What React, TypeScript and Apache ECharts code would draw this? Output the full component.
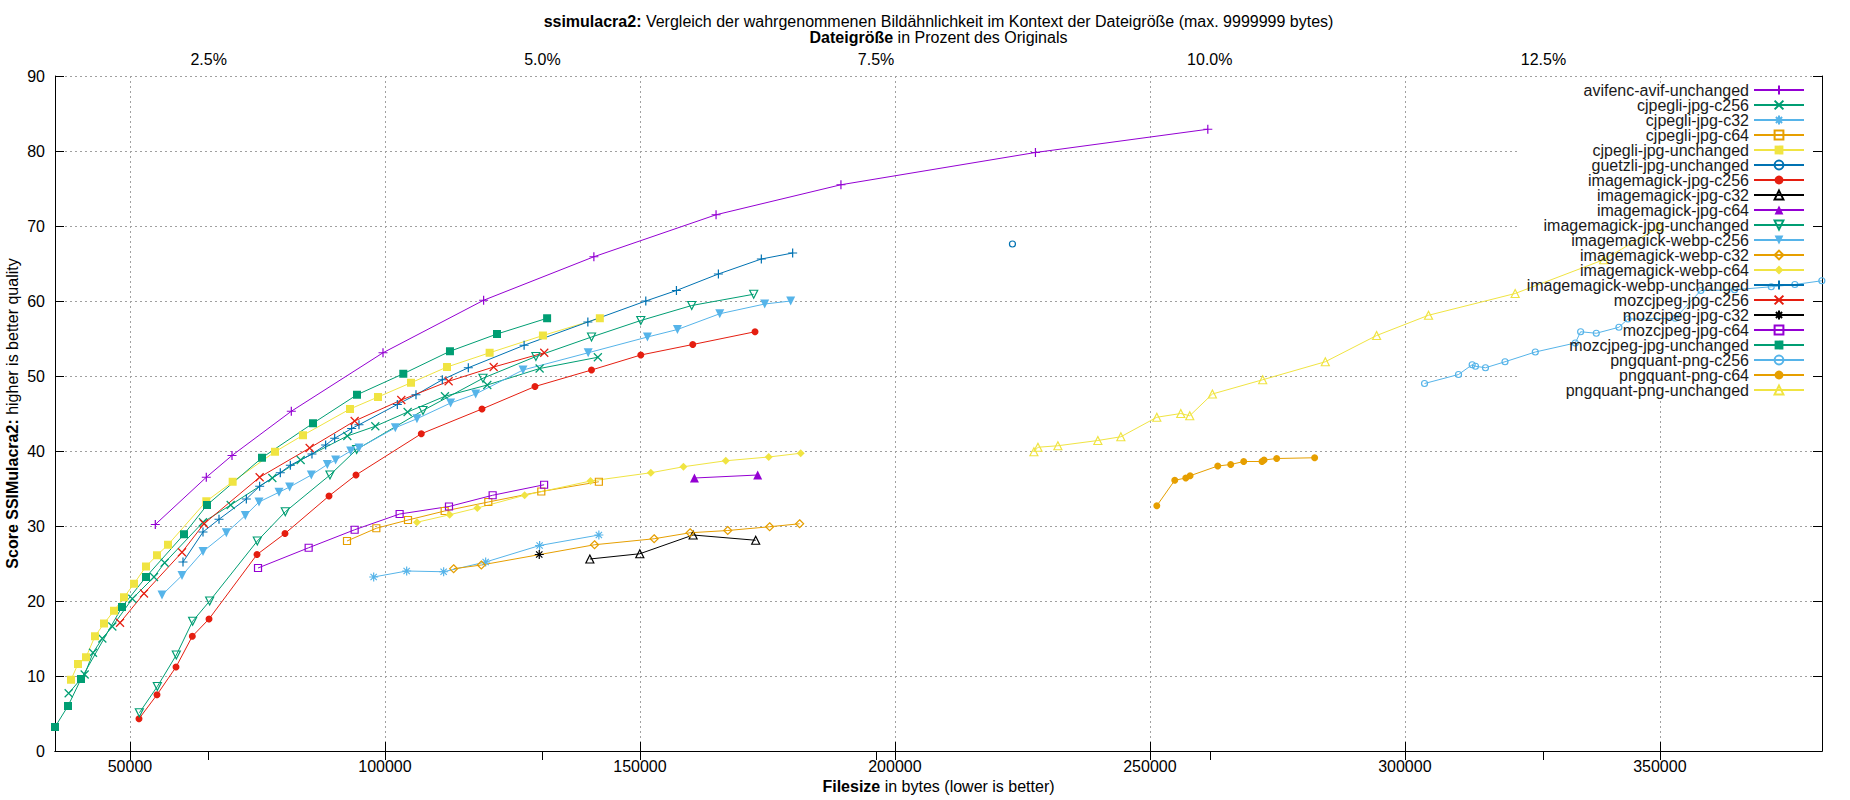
import { useEffect, useRef } from 'react';
import * as echarts from 'echarts';

const FONT = '"Liberation Sans", Arial, sans-serif';

// size of the original image in bytes (top axis = percent of it)
const ORIGINAL_SIZE = 2617500;
const X_MIN = 35300;
const X_MAX = 381800;

const bottomTicks = [50000, 100000, 150000, 200000, 250000, 300000, 350000];
const topTicks = [2.5, 5, 7.5, 10, 12.5];
const yTicksMax = 90;

const seriesNames = [
  'avifenc-avif-unchanged',
  'cjpegli-jpg-c256',
  'cjpegli-jpg-c32',
  'cjpegli-jpg-c64',
  'cjpegli-jpg-unchanged',
  'guetzli-jpg-unchanged',
  'imagemagick-jpg-c256',
  'imagemagick-jpg-c32',
  'imagemagick-jpg-c64',
  'imagemagick-jpg-unchanged',
  'imagemagick-webp-c256',
  'imagemagick-webp-c32',
  'imagemagick-webp-c64',
  'imagemagick-webp-unchanged',
  'mozcjpeg-jpg-c256',
  'mozcjpeg-jpg-c32',
  'mozcjpeg-jpg-c64',
  'mozcjpeg-jpg-unchanged',
  'pngquant-png-c256',
  'pngquant-png-c64',
  'pngquant-png-unchanged',
];

// [filesize in bytes, ssimulacra2 score]
const avifencAvifUnchanged = [[54970, 30.2], [64970, 36.5], [70010, 39.4], [81640, 45.3], [99620, 53.1], [119350, 60.1], [140970, 65.9], [164930, 71.5], [189420, 75.5], [227560, 79.8], [261360, 82.9]];
const cjpegliJpgC256 = [[37980, 7.7], [41120, 10.2], [42750, 13.1], [44580, 15.0], [46540, 16.6], [50460, 20.3], [54710, 23.2], [56800, 25.1], [64320, 30.5], [69750, 32.8], [77920, 36.4], [83470, 38.8], [92620, 42.0], [98110, 43.3], [104450, 45.2], [111770, 47.3], [120070, 48.8], [130330, 51.0], [141750, 52.5]];
const cjpegliJpgC32 = [[97790, 23.2], [104260, 24.0], [111510, 23.9], [119750, 25.2], [130330, 27.4], [141950, 28.8]];
const cjpegliJpgC64 = [[92560, 28.0], [98310, 29.7], [104520, 30.8], [111710, 32.0], [120270, 33.2], [130660, 34.6], [141950, 35.9]];
const cjpegliJpgUnchanged = [[38440, 9.5], [39810, 11.6], [41380, 12.5], [43140, 15.3], [44910, 17.0], [46870, 18.7], [48830, 20.5], [50790, 22.3], [53140, 24.6], [55300, 26.1], [57460, 27.5], [64970, 33.3], [70140, 35.9], [78440, 39.9], [83930, 42.1], [93150, 45.6], [98640, 47.2], [105110, 49.1], [112170, 51.2], [120530, 53.1], [130980, 55.4], [142140, 57.7]];
const guetzliJpgUnchanged = [[223050, 67.6]];
const imagemagickJpgC256 = [[51770, 4.3], [55300, 7.5], [59030, 11.2], [62230, 15.3], [65500, 17.6], [74910, 26.2], [80400, 29.0], [89030, 34.0], [94320, 36.8], [107130, 42.3], [119030, 45.6], [129420, 48.6], [140510, 50.8], [150170, 52.8], [160360, 54.2], [172570, 55.9]];
const imagemagickJpgC32 = [[140180, 25.6], [149980, 26.3], [160430, 28.8], [172700, 28.1]];
const imagemagickJpgC64 = [[160690, 36.4], [173090, 36.8]];
const imagemagickJpgUnchanged = [[51840, 5.1], [55370, 8.6], [59090, 12.8], [62290, 17.3], [65630, 20.0], [74970, 28.0], [80460, 31.9], [89220, 36.8], [94450, 40.2], [107460, 45.4], [119220, 49.7], [129600, 52.6], [140510, 55.2], [150170, 57.4], [160160, 59.4], [172310, 60.9]];
const imagemagickWebpC256 = [[56280, 20.8], [60200, 23.4], [64320, 26.6], [68900, 29.1], [72620, 31.4], [75300, 33.2], [79220, 34.5], [81310, 35.2], [85560, 36.8], [88700, 38.2], [90330, 38.8], [93280, 40.0], [94910, 40.4], [102030, 43.1], [106280, 44.3], [112880, 46.4], [117790, 47.6], [127070, 50.8], [139860, 53.1], [151480, 55.2], [157360, 56.2], [165650, 58.3], [174470, 59.6], [179560, 60.0]];
const imagemagickWebpC32 = [[113470, 24.3], [118900, 24.8], [141100, 27.5], [152790, 28.3], [159840, 29.1], [167220, 29.4], [175440, 29.9], [181320, 30.3]];
const imagemagickWebpC64 = [[106280, 30.5], [112690, 31.5], [118110, 32.4], [127390, 34.1], [140310, 36.0], [152130, 37.1], [158530, 37.9], [166830, 38.7], [175250, 39.2], [181520, 39.7]];
const imagemagickWebpUnchanged = [[60400, 25.2], [64320, 29.2], [67460, 30.9], [72820, 33.6], [75430, 35.3], [79480, 37.1], [81450, 38.1], [85690, 39.6], [88370, 40.8], [90140, 41.7], [93470, 43.0], [94910, 43.5], [102430, 46.2], [106090, 47.5], [111250, 49.5], [116350, 51.1], [127290, 54.1], [139790, 57.2], [151150, 60.0], [157160, 61.4], [165390, 63.6], [173810, 65.6], [179950, 66.4]];
const mozcjpegJpgC256 = [[48050, 17.1], [52750, 21.0], [60200, 26.5], [64520, 30.3], [75430, 36.5], [85240, 40.4], [94060, 44.0], [103210, 46.8], [112490, 49.3], [121320, 51.2], [131240, 53.1]];
const mozcjpegJpgC32 = [[130260, 26.2]];
const mozcjpegJpgC64 = [[75110, 24.4], [85040, 27.1], [94060, 29.5], [102880, 31.6], [112560, 32.6], [121120, 34.1], [131210, 35.5]];
const mozcjpegJpgUnchanged = [[35300, 3.2], [37850, 6.0], [40400, 9.6], [48440, 19.2], [53140, 23.2], [60600, 28.9], [65110, 32.8], [75890, 39.1], [85890, 43.7], [94520, 47.5], [103600, 50.3], [112750, 53.3], [121970, 55.6], [131800, 57.7]];
const pngquantPngC256 = [[303860, 49.0], [310520, 50.2], [313200, 51.5], [313850, 51.3], [315810, 51.1], [319640, 51.9], [325580, 53.2], [333420, 54.4], [334470, 55.9], [337540, 55.7], [341980, 56.5], [343740, 57.6], [353020, 57.7], [358040, 61.4], [364660, 61.5], [371850, 61.9], [376480, 62.2], [381770, 62.7]];
const pngquantPngC64 = [[251360, 32.7], [254880, 36.1], [257040, 36.4], [257890, 36.7], [263310, 38.0], [265850, 38.2], [268400, 38.6], [271990, 38.6], [272390, 38.8], [274870, 39.0], [282310, 39.1]];
const pngquantPngUnchanged = [[227260, 39.9], [228050, 40.5], [231960, 40.7], [239800, 41.4], [244310, 41.9], [251360, 44.5], [256060, 45.0], [257820, 44.7], [262260, 47.6], [272120, 49.5], [284400, 51.9], [294460, 55.4], [304640, 58.1], [321630, 61.0], [338970, 65.5], [349950, 69.9]];

const seriesData = [
  avifencAvifUnchanged, cjpegliJpgC256, cjpegliJpgC32, cjpegliJpgC64, cjpegliJpgUnchanged,
  guetzliJpgUnchanged, imagemagickJpgC256, imagemagickJpgC32, imagemagickJpgC64, imagemagickJpgUnchanged,
  imagemagickWebpC256, imagemagickWebpC32, imagemagickWebpC64, imagemagickWebpUnchanged,
  mozcjpegJpgC256, mozcjpegJpgC32, mozcjpegJpgC64, mozcjpegJpgUnchanged,
  pngquantPngC256, pngquantPngC64, pngquantPngUnchanged,
];

// gnuplot default colour cycle
const palette = ['#9400d3', '#009e73', '#56b4e9', '#e69f00', '#f0e442', '#0072b2', '#e51e10', '#000000'];

// gnuplot point types 1..13
const markers = [
  { symbol: 'path://M5,0L5,10M0,5L10,5', size: 9, filled: false },
  { symbol: 'path://M0,0L10,10M10,0L0,10', size: 8, filled: false },
  { symbol: 'path://M5,0L5,10M0,5L10,5M1.5,1.5L8.5,8.5M8.5,1.5L1.5,8.5', size: 9, filled: false },
  { symbol: 'path://M0,0L10,0L10,10L0,10Z', size: 7, filled: false },
  { symbol: 'rect', size: 8, filled: true },
  { symbol: 'path://M0,5A5,5,0,1,1,10,5A5,5,0,1,1,0,5Z', size: 6, filled: false },
  { symbol: 'circle', size: 7, filled: true },
  { symbol: 'path://M5,0L10,9L0,9Z', size: 8, filled: false },
  { symbol: 'triangle', size: 9, filled: true },
  { symbol: 'path://M0,0L10,0L5,9Z', size: 8, filled: false },
  { symbol: 'triangle', size: 9, filled: true, rotate: 180 },
  { symbol: 'path://M5,0L10,5L5,10L0,5Z', size: 8, filled: false },
  { symbol: 'diamond', size: 8, filled: true },
];

const toPercent = (bytes: number) => (bytes / ORIGINAL_SIZE) * 100;

export default function App() {
  const chartRef = useRef<HTMLDivElement>(null);

  useEffect(() => {
    const chart = echarts.init(chartRef.current, null, { renderer: 'svg' });

    const series = seriesNames.map((name, i) => {
      const color = palette[i % palette.length];
      const m = markers[i % markers.length];
      return {
        name,
        type: 'line',
        data: seriesData[i],
        xAxisIndex: 0,
        yAxisIndex: 0,
        symbol: m.symbol,
        symbolSize: m.size,
        symbolRotate: m.rotate || 0,
        lineStyle: { color, width: 1 },
        itemStyle: {
          color: m.filled ? color : 'transparent',
          borderColor: color,
          borderWidth: m.filled ? 0 : 1.2,
        },
        emphasis: { disabled: true },
        silent: true,
      };
    });

    const tickLine = { color: '#000', width: 1 };
    const gridLine = { color: '#a0a0a0', width: 1, type: [2, 3] };

    const option = {
      animation: false,
      textStyle: { fontFamily: FONT, color: '#000' },
      grid: { left: 55, top: 76, width: 1767, height: 675 },
      xAxis: [
        {
          type: 'value',
          position: 'bottom',
          min: X_MIN,
          max: X_MAX,
          axisLine: { show: true, lineStyle: tickLine },
          axisTick: { show: true, inside: true, length: 9, customValues: bottomTicks, lineStyle: tickLine },
          axisLabel: {
            customValues: bottomTicks,
            margin: 7,
            fontSize: 16,
            color: '#000',
            fontFamily: FONT,
            formatter: (v: number) => String(v),
          },
          splitLine: { show: true, lineStyle: gridLine },
        },
        {
          type: 'value',
          position: 'top',
          min: toPercent(X_MIN),
          max: toPercent(X_MAX),
          axisLine: { show: true, lineStyle: tickLine },
          axisTick: {
            show: true,
            inside: true,
            length: 9,
            customValues: topTicks.concat(bottomTicks.map(toPercent)),
            lineStyle: tickLine,
          },
          axisLabel: {
            customValues: topTicks,
            margin: 9,
            fontSize: 16,
            color: '#000',
            fontFamily: FONT,
            formatter: (v: number) => v.toFixed(1) + '%',
          },
          splitLine: { show: false },
        },
      ],
      yAxis: [
        {
          type: 'value',
          position: 'left',
          min: 0,
          max: yTicksMax,
          interval: 10,
          axisLine: { show: true, lineStyle: tickLine },
          axisTick: { show: true, inside: true, length: 9, lineStyle: tickLine },
          axisLabel: { margin: 10, fontSize: 16, color: '#000', fontFamily: FONT },
          splitLine: { show: true, lineStyle: gridLine },
        },
        {
          type: 'value',
          position: 'right',
          min: 0,
          max: yTicksMax,
          interval: 10,
          axisLine: { show: true, lineStyle: tickLine },
          axisTick: { show: true, inside: true, length: 9, lineStyle: tickLine },
          axisLabel: { show: false },
          splitLine: { show: false },
        },
      ],
      legend: {
        orient: 'vertical',
        right: 45,
        top: 82,
        align: 'right',
        itemWidth: 50,
        itemHeight: 11,
        itemGap: -1,
        padding: 0,
        selectedMode: false,
        data: seriesNames,
        textStyle: { fontSize: 16, color: '#1a1a1a', fontFamily: FONT },
      },
      graphic: [
        {
          type: 'rect',
          z: 1,
          silent: true,
          shape: { x: 1517, y: 86, width: 295, height: 314 },
          style: { fill: '#ffffff' },
        },
        {
          type: 'text',
          x: 938.5,
          y: 21,
          style: {
            text: '{b|ssimulacra2:} Vergleich der wahrgenommenen Bildähnlichkeit im Kontext der Dateigröße (max. 9999999 bytes)',
            align: 'center',
            verticalAlign: 'middle',
            fontSize: 16,
            fontFamily: FONT,
            fill: '#000',
            rich: { b: { fontWeight: 'bold', fontSize: 16, fontFamily: FONT, fill: '#000' } },
          },
        },
        {
          type: 'text',
          x: 938.5,
          y: 37,
          style: {
            text: '{b|Dateigröße} in Prozent des Originals',
            align: 'center',
            verticalAlign: 'middle',
            fontSize: 16,
            fontFamily: FONT,
            fill: '#000',
            rich: { b: { fontWeight: 'bold', fontSize: 16, fontFamily: FONT, fill: '#000' } },
          },
        },
        {
          type: 'text',
          x: 938.5,
          y: 786,
          style: {
            text: '{b|Filesize} in bytes (lower is better)',
            align: 'center',
            verticalAlign: 'middle',
            fontSize: 16,
            fontFamily: FONT,
            fill: '#000',
            rich: { b: { fontWeight: 'bold', fontSize: 16, fontFamily: FONT, fill: '#000' } },
          },
        },
        {
          type: 'text',
          x: 12,
          y: 413.5,
          rotation: Math.PI / 2,
          style: {
            text: '{b|Score SSIMulacra2:} higher is better quality',
            align: 'center',
            verticalAlign: 'middle',
            fontSize: 16,
            fontFamily: FONT,
            fill: '#000',
            rich: { b: { fontWeight: 'bold', fontSize: 16, fontFamily: FONT, fill: '#000' } },
          },
        },
      ],
      series,
    };

    chart.setOption(option);
    return () => {
      chart.dispose();
    };
  }, []);

  return (
    <div
      ref={chartRef}
      style={{ position: 'absolute', left: 0, top: 0, width: '1850px', height: '800px', background: '#fff' }}
    />
  );
}
